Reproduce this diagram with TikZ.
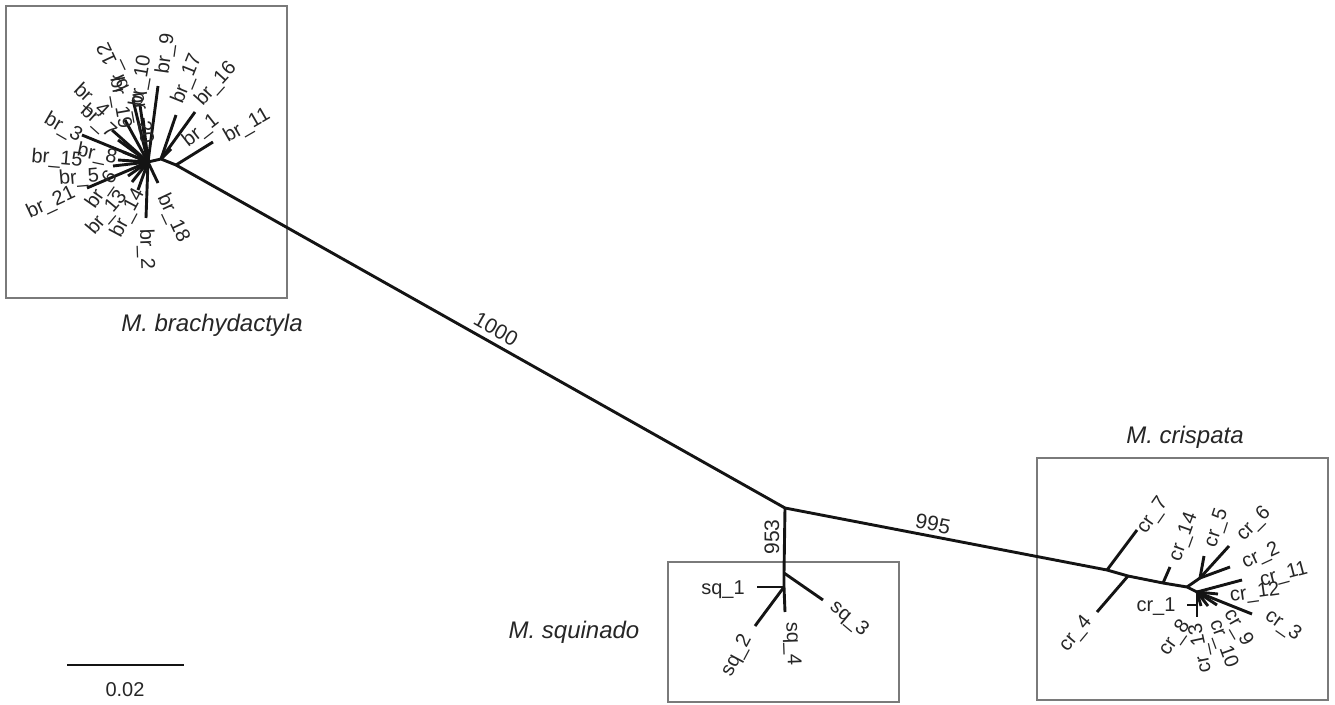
\documentclass[tikz,border=0pt]{standalone}
\usepackage{fontspec}
\setmainfont{Liberation Sans}
\definecolor{boxgray}{HTML}{7A7A7A}
\begin{document}
\begin{tikzpicture}[x=1pt,y=-1pt,
  branch/.style={line width=2.9pt, line cap=butt, black!92},
  frame/.style={draw=boxgray, line width=2.8pt},
  lab/.style={font=\fontsize{20}{20}\selectfont, inner sep=0pt, text=black!85},
  boot/.style={font=\fontsize{21}{21}\selectfont, inner sep=0pt, text=black!85},
  species/.style={font=\itshape\fontsize{24}{24}\selectfont, inner sep=0pt, text=black!85}]
\useasboundingbox (0,0) rectangle (1335,704);
% frames
\draw[frame] (6,6) rectangle (287,298);
\draw[frame] (668,562) rectangle (899,702);
\draw[frame] (1037,458) rectangle (1328,700);
\node[species] (spb) at (212,325) {M. brachydactyla};
\node[species] (sps) at (574,632) {M. squinado};
\node[species] (spc) at (1185,437) {M. crispata};
% backbone
\coordinate (bH) at (148,162);
\coordinate (bA) at (161,159);
\coordinate (bB) at (176,165);
\coordinate (N0) at (785,508);
\coordinate (c1) at (1107,570);
\coordinate (c2) at (1128,576);
\coordinate (c3) at (1163,583);
\coordinate (c4) at (1187,587);
\coordinate (c5) at (1200,578);
\coordinate (cH) at (1197,592);
\coordinate (c6) at (1197,605);
\coordinate (s0) at (784,573);
\coordinate (sH) at (784,587);
\draw[branch] (bH) -- (bA) -- (bB) -- (N0) -- (c1) -- (c2) -- (c3) -- (c4) -- (cH);
\draw[branch] (N0) -- (s0) -- (sH);
\node[boot, rotate=-29.6] (b1000) at (496,329) {1000};
\node[boot, rotate=-11] (b995) at (933,524) {995};
\node[boot, rotate=90] (b953) at (772,537) {953};
% squinado tips
\coordinate (sq1) at (757,587);
\coordinate (sq2) at (755,626);
\coordinate (sq3) at (823,600);
\coordinate (sq4) at (785,612);
\draw[branch] (sH) -- (sq1);
\draw[branch] (sH) -- (sq2);
\draw[branch] (s0) -- (sq3);
\draw[branch] (sH) -- (sq4);
\node[lab] (lsq1) at (723,590) {sq\_1};
\node[lab, rotate=62] (lsq2) at (737,656) {sq\_2};
\node[lab, rotate=-40] (lsq3) at (849,619) {sq\_3};
\node[lab, rotate=-88] (lsq4) at (792,644) {sq\_4};
% crispata tips
\coordinate (cr7) at (1137,530);
\coordinate (cr4) at (1097,612);
\coordinate (cr14) at (1170,567);
\coordinate (cr5) at (1204,556);
\coordinate (cr6) at (1229,546);
\coordinate (cr2) at (1230,567);
\coordinate (cr11) at (1242,580);
\coordinate (cr12) at (1218,594);
\coordinate (cr3) at (1252,614);
\coordinate (cr9) at (1217,605);
\coordinate (cr10) at (1208,606);
\coordinate (cr13) at (1201,606);
\coordinate (cr8) at (1197,617);
\coordinate (cr1) at (1187,605);
\draw[branch] (c1) -- (cr7);
\draw[branch] (c2) -- (cr4);
\draw[branch] (c3) -- (cr14);
\draw[branch] (c4) -- (c5);
\draw[branch] (c5) -- (cr5);
\draw[branch] (c5) -- (cr6);
\draw[branch] (c5) -- (cr2);
\draw[branch] (cH) -- (cr11);
\draw[branch] (cH) -- (cr12);
\draw[branch] (cH) -- (cr3);
\draw[branch] (cH) -- (cr9);
\draw[branch] (cH) -- (cr10);
\draw[branch] (cH) -- (cr13);
\draw[branch] (cH) -- (c6) -- (cr8);
\draw[branch] (c6) -- (cr1);
\node[lab, rotate=55] (lcr7) at (1153,516) {cr\_7};
\node[lab, rotate=50] (lcr4) at (1076,634) {cr\_4};
\node[lab, rotate=70] (lcr14) at (1184,537) {cr\_14};
\node[lab, rotate=72] (lcr5) at (1217,528) {cr\_5};
\node[lab, rotate=45] (lcr6) at (1254,524) {cr\_6};
\node[lab, rotate=25] (lcr2) at (1261,556) {cr\_2};
\node[lab, rotate=15] (lcr11) at (1284,575) {cr\_11};
\node[lab, rotate=8] (lcr12) at (1255,593) {cr\_12};
\node[lab, rotate=-35] (lcr3) at (1283,626) {cr\_3};
\node[lab, rotate=-60] (lcr9) at (1238,628) {cr\_9};
\node[lab, rotate=-70] (lcr10) at (1223,644) {cr\_10};
\node[lab, rotate=102] (lcr13) at (1201,648) {cr\_13};
\node[lab, rotate=55] (lcr8) at (1175,638) {cr\_8};
\node[lab] (lcr1) at (1156,607) {cr\_1};
% brachydactyla tips
\coordinate (br9) at (158,86);
\coordinate (br17) at (176,115);
\coordinate (br16) at (195,112);
\coordinate (br1) at (171,149);
\coordinate (br11) at (213,142);
\coordinate (br18) at (158,183);
\coordinate (br2) at (146,218);
\coordinate (br21) at (87,188);
\coordinate (br5) at (113,166);
\coordinate (br15) at (118,160);
\coordinate (br8) at (123,152);
\coordinate (br3) at (82,135);
\coordinate (br4) at (112,130);
\coordinate (br7) at (118,140);
\coordinate (br19) at (125,120);
\coordinate (br12) at (133,100);
\coordinate (br10) at (140,105);
\coordinate (br20) at (143,118);
\coordinate (br6) at (128,176);
\coordinate (br13) at (132,182);
\coordinate (br14) at (138,190);
\foreach \t in {br9,br18,br2,br21,br5,br15,br8,br3,br4,br7,br19,br12,br10,br20,br6,br13,br14}
  \draw[branch] (bH) -- (\t);
\draw[branch] (bA) -- (br17);
\draw[branch] (bA) -- (br16);
\draw[branch] (bA) -- (br1);
\draw[branch] (bB) -- (br11);
\node[lab, rotate=82] (lbr9) at (166,54) {br\_9};
\node[lab, rotate=68] (lbr17) at (187,79) {br\_17};
\node[lab, rotate=48] (lbr16) at (216,84) {br\_16};
\node[lab, rotate=38] (lbr1) at (201,131) {br\_1};
\node[lab, rotate=30] (lbr11) at (247,126) {br\_11};
\node[lab, rotate=-65] (lbr18) at (173,218) {br\_18};
\node[lab, rotate=-88] (lbr2) at (146,249) {br\_2};
\node[lab, rotate=25] (lbr21) at (51,203) {br\_21};
\node[lab, rotate=5] (lbr5) at (79,178) {br\_5};
\node[lab, rotate=-5] (lbr15) at (57,159) {br\_15};
\node[lab, rotate=-12] (lbr8) at (97,155) {br\_8};
\node[lab, rotate=-30] (lbr3) at (63,128) {br\_3};
\node[lab, rotate=-43] (lbr4) at (91,101) {br\_4};
\node[lab, rotate=-42] (lbr7) at (98,122) {br\_7};
\node[lab, rotate=-80] (lbr19) at (120,103) {br\_19};
\node[lab, rotate=115] (lbr12) at (114,67) {br\_12};
\node[lab, rotate=80] (lbr10) at (141,81) {br\_10};
\node[lab, rotate=-80] (lbr20) at (142,118) {br\_20};
\node[lab, rotate=55] (lbr6) at (102,190) {br\_6};
\node[lab, rotate=50] (lbr13) at (107,213) {br\_13};
\node[lab, rotate=62] (lbr14) at (128,213) {br\_14};
% scale bar
\coordinate (sb1) at (67,665);
\coordinate (sb2) at (184,665);
\draw[branch] (sb1) -- (sb2);
\node[font=\fontsize{20}{20}\selectfont, inner sep=0pt, text=black!85] (sbl) at (125,690) {0.02};
\end{tikzpicture}
\end{document}
